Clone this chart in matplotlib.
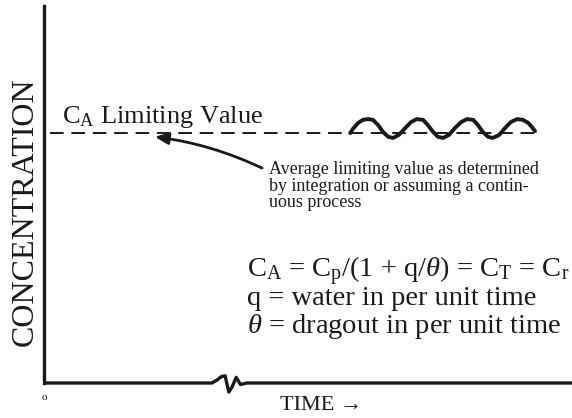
import matplotlib
matplotlib.use('Agg')
import matplotlib.pyplot as plt

plt.rcParams.update({
    'font.family': ['Liberation Serif', 'DejaVu Serif'],
    'mathtext.fontset': 'custom',
    'mathtext.rm': 'Liberation Serif',
    'mathtext.it': 'Liberation Serif:italic',
    'text.color': '#1a1a1a',
})

INK = '#1a1a1a'

# Limiting value (concentration units, axis 0-100)
LIMIT = 66.3
LIMIT_START = 1.1
LIMIT_END = 93.9

wave_time = [58.0, 58.5, 59.5, 60.4, 61.4, 62.3, 63.3, 64.2, 65.2, 66.1,
             67.2, 68.4, 69.5, 70.6, 71.8, 72.7, 73.7, 74.6, 75.6, 76.7,
             77.8, 79.0, 80.1, 81.3, 82.2, 83.1, 84.1, 85.0, 86.2, 87.3,
             88.4, 89.6, 90.7, 91.7, 92.4, 93.0]
wave_conc = [66.3, 67.4, 69.0, 69.8, 70.0, 69.8, 68.4, 66.6, 65.3, 65.0,
             65.8, 67.6, 69.2, 70.0, 69.8, 68.4, 66.6, 65.3, 65.0, 65.8,
             67.6, 69.2, 70.0, 69.8, 68.4, 66.6, 65.3, 65.0, 65.8, 67.6,
             69.2, 70.0, 69.8, 69.0, 67.9, 66.8]

# time axis with the break symbol
axis_time = [0, 31.8, 32.8, 33.6, 34.3, 35.0, 35.6, 36.4, 37.2, 38.4, 100]
axis_conc = [0, 0, 0.8, 1.7, 1.9, -2.4, -1.1, 1.5, -0.4, 0, 0]

LIMIT_LABEL = r'C$_{\mathrm{A}}$ Limiting Value'
NOTE = ('Average limiting value as determined\n'
        'by integration or assuming a contin-\n'
        'uous process')
EQUATIONS = [r'C$_{\mathrm{A}}$ = C$_{\mathrm{p}}$/(1 + q/$\theta$) = C$_{\mathrm{T}}$ = C$_{\mathrm{r}}$',
             'q = water in per unit time',
             r'$\theta$ = dragout in per unit time']

fig = plt.figure(figsize=(5.72, 4.18), dpi=100)
ax = fig.add_axes([44 / 572, 35 / 418, 528 / 572, 377 / 418])
ax.set_xlim(0, 100)
ax.set_ylim(0, 100)
ax.set_xticks([])
ax.set_yticks([])
for side in ['top', 'right', 'bottom']:
    ax.spines[side].set_visible(False)
ax.spines['left'].set_linewidth(2.4)
ax.spines['left'].set_color(INK)

# time axis
ax.plot(axis_time, axis_conc, color=INK, lw=2.4, clip_on=False,
        solid_joinstyle='round', solid_capstyle='butt')

# limiting value dashed line
ax.plot([LIMIT_START, LIMIT_END], [LIMIT, LIMIT], color=INK, lw=1.4,
        dashes=(7, 4))

# fluctuating concentration
ax.plot(wave_time, wave_conc, color=INK, lw=2.8, solid_joinstyle='round',
        solid_capstyle='round')

ax.text(3.4, 69.0, LIMIT_LABEL, fontsize=19, ha='left', va='baseline')

ax.annotate('', xy=(21.0, 65.3), xytext=(41.3, 57.0),
            arrowprops=dict(arrowstyle='-|>,head_length=0.8,head_width=0.35',
                            color=INK, lw=2.0, connectionstyle='arc3,rad=0.08',
                            shrinkA=0, shrinkB=0))
ax.text(42.6, 58.8, NOTE, fontsize=13, ha='left', va='top',
        linespacing=0.95)

for eq, base in zip(EQUATIONS, [28.1, 20.7, 13.3]):
    ax.text(38.4, base, eq, fontsize=20.5, ha='left', va='baseline', clip_on=False)

fig.text(25 / 572, 1 - 212 / 418, 'CONCENTRATION', rotation=90, fontsize=23,
         ha='center', va='center')
fig.text(321 / 572, 1 - 405 / 418, 'TIME \u2192', fontsize=16,
         ha='center', va='center')
fig.text(44 / 572, 1 - 398 / 418, 'o', fontsize=8, ha='center', va='center')

fig.savefig('out.png', dpi=100)
